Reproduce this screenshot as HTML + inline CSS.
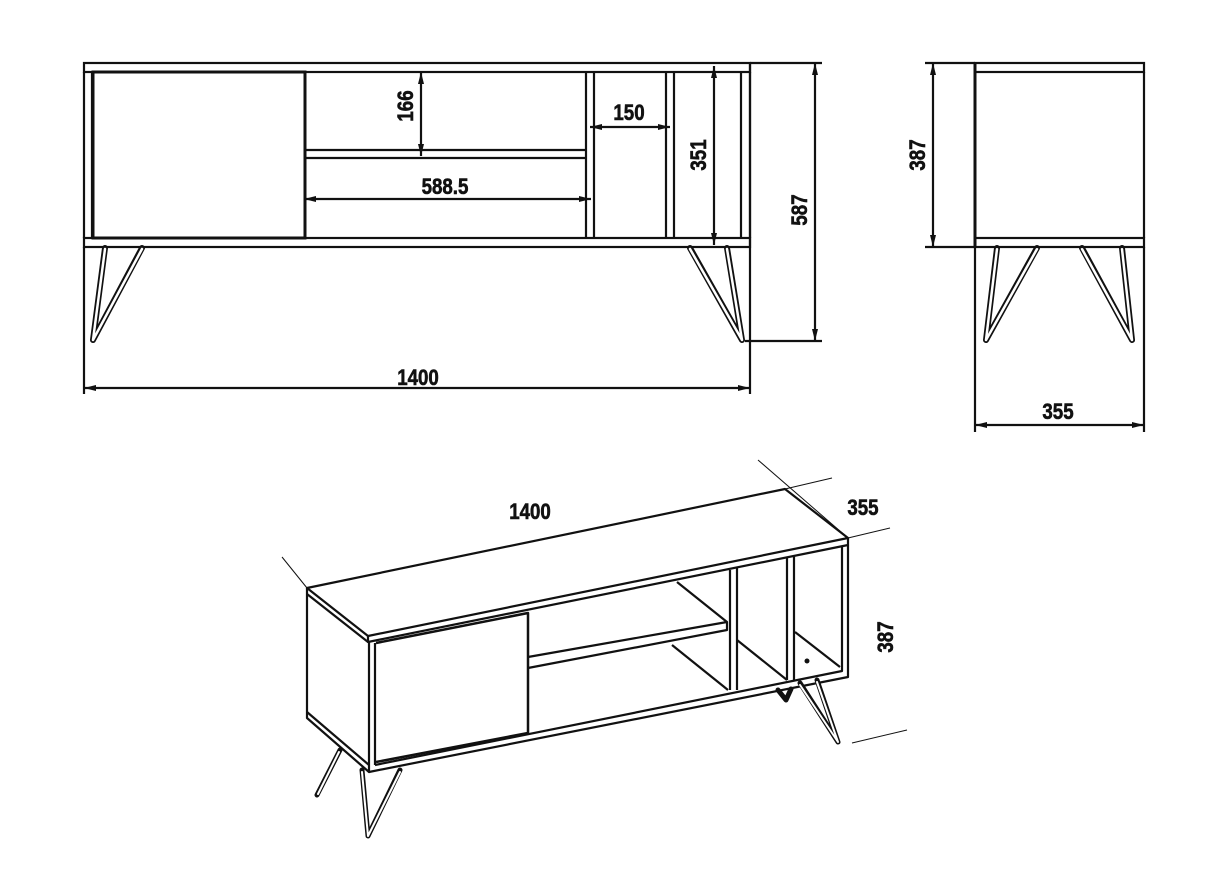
<!DOCTYPE html>
<html><head><meta charset="utf-8"><style>
html,body{margin:0;padding:0;background:#fff;}
svg{display:block;}
text{font-family:"Liberation Sans",sans-serif;font-weight:bold;font-size:22px;fill:#111;stroke:#111;stroke-width:0.6px;}
</style></head><body>
<svg width="1220" height="880" viewBox="0 0 1220 880" xmlns="http://www.w3.org/2000/svg">
<defs>
<marker id="a" viewBox="0 0 12 6" refX="12" refY="3" markerWidth="13" markerHeight="6" orient="auto-start-reverse" markerUnits="userSpaceOnUse"><path d="M0,0L12,3L0,6z" fill="#111"/></marker>
</defs>
<g stroke="#111" stroke-width="2.2" fill="none">
<rect x="84" y="63" width="666" height="9"/>
<rect x="84" y="238" width="666" height="9"/>
<line x1="84" y1="72" x2="84" y2="238"/>
<line x1="92" y1="72" x2="92" y2="238"/>
<rect x="93" y="72" width="212" height="166" stroke-width="3"/>
<line x1="305" y1="150" x2="586" y2="150"/>
<line x1="305" y1="158" x2="586" y2="158"/>
<line x1="586" y1="72" x2="586" y2="238"/><line x1="594" y1="72" x2="594" y2="238"/>
<line x1="666" y1="72" x2="666" y2="238"/><line x1="674" y1="72" x2="674" y2="238"/>
<line x1="741" y1="72" x2="741" y2="238"/><line x1="750" y1="72" x2="750" y2="238"/>
</g>
<g stroke="#111" stroke-width="6" fill="none" stroke-linecap="round" stroke-linejoin="round">
<path d="M105,248 L93,340 L142,248"/><path d="M690,248 L742,340 L727,248"/>
<path d="M997,248 L986,340 L1037,248"/><path d="M1082,248 L1132,340 L1122,248"/>
</g>
<g stroke="#fff" stroke-width="2.5" fill="none" stroke-linecap="round" stroke-linejoin="round">
<path d="M105,249 L93,340 L142,249"/><path d="M690,249 L742,340 L727,249"/>
<path d="M997,249 L986,340 L1037,249"/><path d="M1082,249 L1132,340 L1122,249"/>
</g>
<g stroke="#111" stroke-width="2.2" fill="none">
<line x1="84" y1="247" x2="84" y2="394"/>
<line x1="750" y1="63" x2="750" y2="394"/>
<line x1="84" y1="388" x2="750" y2="388" marker-start="url(#a)" marker-end="url(#a)"/>
<line x1="750" y1="63" x2="822" y2="63"/>
<line x1="745" y1="341" x2="822" y2="341"/>
<line x1="815" y1="63" x2="815" y2="341" marker-start="url(#a)" marker-end="url(#a)"/>
<line x1="421" y1="72" x2="421" y2="156" marker-start="url(#a)" marker-end="url(#a)"/>
<line x1="304" y1="199" x2="591" y2="199" marker-start="url(#a)" marker-end="url(#a)"/>
<line x1="590" y1="127" x2="670" y2="127" marker-start="url(#a)" marker-end="url(#a)"/>
<line x1="714" y1="66" x2="714" y2="245" marker-start="url(#a)" marker-end="url(#a)"/>
<rect x="975" y="63" width="169" height="9"/>
<rect x="975" y="238" width="169" height="9"/>
<line x1="975" y1="63" x2="975" y2="247" stroke-width="3"/>
<line x1="1144" y1="72" x2="1144" y2="238"/>
<line x1="925" y1="63" x2="975" y2="63"/>
<line x1="925" y1="247" x2="975" y2="247"/>
<line x1="933" y1="63" x2="933" y2="247" marker-start="url(#a)" marker-end="url(#a)"/>
<line x1="975" y1="247" x2="975" y2="432"/>
<line x1="1144" y1="247" x2="1144" y2="432"/>
<line x1="975" y1="425" x2="1144" y2="425" marker-start="url(#a)" marker-end="url(#a)"/>
</g>
<g stroke="#111" stroke-width="2.2" fill="none" stroke-linejoin="round">
<path d="M307,588 L785,489 L848,538 L368,636 Z"/>
<path d="M368,636 L368,642 L848,545 L848,538"/>
<path d="M307,588 L307,718 L369,772 L369,642"/>
<line x1="307" y1="594" x2="368" y2="642"/>
<line x1="307" y1="712" x2="369" y2="765"/>
<line x1="375" y1="643" x2="375" y2="765"/>
<path d="M369,772 L848,677 L848,545"/>
<path d="M375,765 L842,671 L842,547"/>
<path d="M376,643 L528,613 L528,733 L376,762" stroke-width="2.5"/>
<path d="M528,657 L727,622 L727,630 L528,668"/>
<line x1="727" y1="622" x2="677" y2="582"/>
<line x1="672" y1="645" x2="728" y2="690"/>
<path d="M730,570 L730,690 M737,568 L737,690"/>
<path d="M787,558 L787,680 M794,556 L794,680"/>
<line x1="737" y1="640" x2="787" y2="680"/>
<line x1="795" y1="632" x2="840" y2="667"/>
</g>
<g stroke="#111" stroke-width="5" fill="none" stroke-linecap="round" stroke-linejoin="round">
<path d="M362,770 L368,836 L400,770"/>
<path d="M800,683 L838,742 L817,680"/>
<path d="M340,750 L317,795"/>
<path d="M778,690 L786,700 L791,689"/>
</g>
<g stroke="#fff" stroke-width="2" fill="none" stroke-linecap="round" stroke-linejoin="round">
<path d="M362,772 L368,836 L400,772"/>
<path d="M800,685 L838,742 L817,682"/>
<path d="M339,752 L318,794"/>
</g>
<circle cx="807" cy="661" r="2.5" fill="#111"/>
<g stroke="#111" stroke-width="1" fill="none">
<line x1="282" y1="557" x2="307" y2="588"/>
<line x1="758" y1="460" x2="848" y2="538"/>
<line x1="785" y1="489" x2="832" y2="478"/>
<line x1="848" y1="538" x2="890" y2="528"/>
<line x1="852" y1="743" x2="907" y2="730"/>
</g>
<g>
<text x="418" y="385" text-anchor="middle" transform="translate(418 0) scale(0.85 1) translate(-418 0)">1400</text>
<text x="445" y="194" text-anchor="middle" transform="translate(445 0) scale(0.85 1) translate(-445 0)">588.5</text>
<text x="629" y="120" text-anchor="middle" transform="translate(629 0) scale(0.85 1) translate(-629 0)">150</text>
<text x="1058" y="419" text-anchor="middle" transform="translate(1058 0) scale(0.85 1) translate(-1058 0)">355</text>
<text x="530" y="519" text-anchor="middle" transform="translate(530 0) scale(0.85 1) translate(-530 0)">1400</text>
<text x="863" y="515" text-anchor="middle" transform="translate(863 0) scale(0.85 1) translate(-863 0)">355</text>
<text transform="translate(413 106) rotate(-90) scale(0.85 1)" text-anchor="middle">166</text>
<text transform="translate(706 155) rotate(-90) scale(0.85 1)" text-anchor="middle">351</text>
<text transform="translate(807 210) rotate(-90) scale(0.85 1)" text-anchor="middle">587</text>
<text transform="translate(925 155) rotate(-90) scale(0.85 1)" text-anchor="middle">387</text>
<text transform="translate(893 637) rotate(-90) scale(0.85 1)" text-anchor="middle">387</text>
</g>
</svg>
</body></html>
